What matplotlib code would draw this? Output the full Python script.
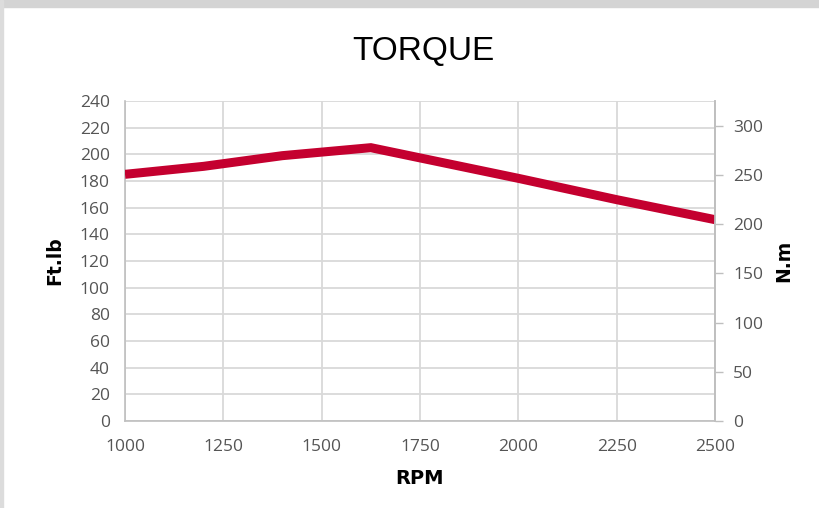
import matplotlib
matplotlib.use("Agg")
import matplotlib.pyplot as plt
from matplotlib.patches import Rectangle
import numpy as np

rpm = [1000, 1200, 1400, 1625, 2000, 2250, 2500]
torque_ftlb = [185, 191, 199, 205, 182, 166, 151]
x_ticks = [1000, 1250, 1500, 1750, 2000, 2250, 2500]
left_ticks = list(range(0, 241, 20))
right_ticks = list(range(0, 301, 50))
NM_PER_FTLB = 1.35582

plt.rcParams['font.family'] = ['Open Sans', 'DejaVu Sans']
grey_txt = '#555555'

fig = plt.figure(figsize=(8.2, 5.08), dpi=100)
fig.patch.set_facecolor('white')
# card edge from the screenshot
fig.patches.append(Rectangle((0, 1 - 7/508), 1, 7/508, transform=fig.transFigure,
                             color='#d4d4d4', zorder=0))
fig.patches.append(Rectangle((0, 0), 3/820, 1, transform=fig.transFigure,
                             color='#dcdcdc', zorder=0))

ax = fig.add_axes([125/820, 87/508, 590/820, 320/508])
ax.plot(rpm, torque_ftlb, color='#C4002F', lw=6.5, solid_capstyle='butt',
        solid_joinstyle='miter', zorder=3)
ax.set_xlim(1000, 2500)
ax.set_ylim(0, 240)
ax.set_xticks(x_ticks)
ax.set_yticks(left_ticks)
ax.grid(True, color='#d9d9d9', lw=1.3)
ax.set_axisbelow(True)
ax.spines['top'].set_visible(False)
for s in ['left', 'bottom', 'right']:
    ax.spines[s].set_color('#bfbfbf')
    ax.spines[s].set_linewidth(1.2)
ax.tick_params(length=0, labelsize=12.5, labelcolor=grey_txt, pad=11)
ax.tick_params(axis='x', pad=13)

ax2 = ax.twinx()
ax2.set_ylim(0, 240 * NM_PER_FTLB)
ax2.set_yticks(right_ticks)
for s in ['top', 'left', 'bottom']:
    ax2.spines[s].set_visible(False)
ax2.spines['right'].set_color('#bfbfbf')
ax2.spines['right'].set_linewidth(1.2)
ax2.tick_params(length=6, width=1, color='#bfbfbf', labelsize=12.5,
                labelcolor=grey_txt, pad=7)

ax.set_ylabel('Ft.lb', fontsize=13.5, fontweight='bold', family='DejaVu Sans',
              labelpad=11)
ax2.set_ylabel('N.m', fontsize=13.5, fontweight='bold', family='DejaVu Sans',
               labelpad=8)
ax.set_xlabel('RPM', fontsize=14, fontweight='bold', family='DejaVu Sans',
              labelpad=10)

fig.text(423/820, 1 - 51/508, 'TORQUE', ha='center', va='center', fontsize=24,
         family=['Liberation Sans', 'DejaVu Sans'])

fig.savefig('out.png', dpi=100)
